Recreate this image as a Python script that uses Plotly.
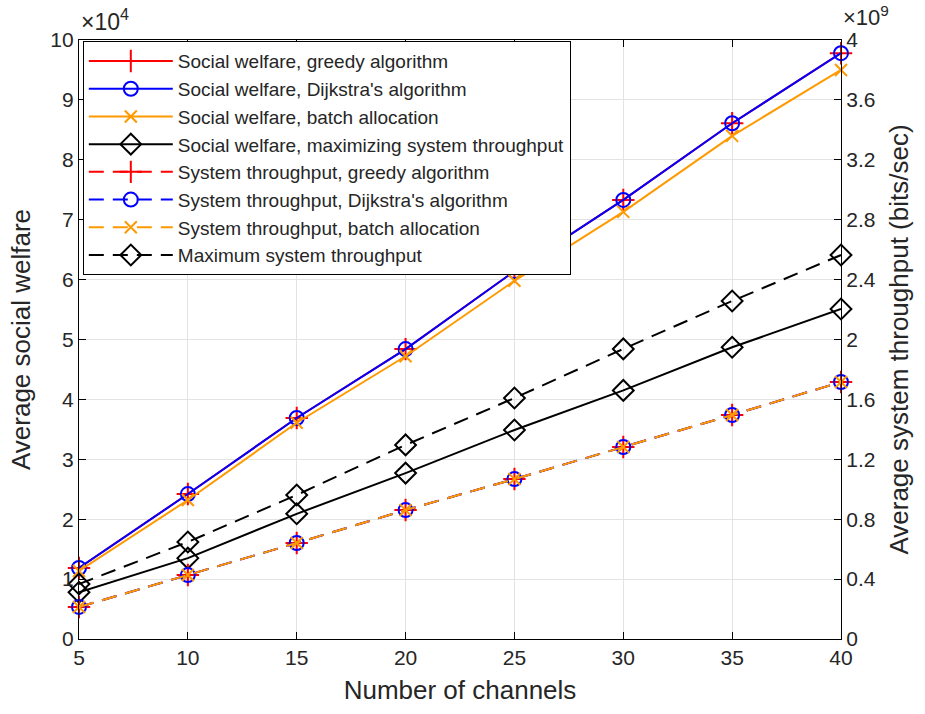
import plotly.graph_objects as go

channels = [5, 10, 15, 20, 25, 30, 35, 40]

# Social welfare (x 1e4)
sw_greedy = [1.185, 2.42, 3.69, 4.84, 6.14, 7.33, 8.61, 9.78]
sw_dijkstra = [1.185, 2.42, 3.69, 4.84, 6.14, 7.33, 8.61, 9.78]
sw_batch = [1.135, 2.32, 3.61, 4.72, 5.98, 7.13, 8.40, 9.50]
sw_maxthr = [0.78, 1.35, 2.09, 2.77, 3.49, 4.15, 4.87, 5.51]

# System throughput (x 1e9 bits/sec)
thr_greedy = [0.214, 0.427, 0.641, 0.861, 1.068, 1.282, 1.496, 1.716]
thr_dijkstra = [0.214, 0.427, 0.641, 0.861, 1.068, 1.282, 1.496, 1.716]
thr_batch = [0.214, 0.427, 0.641, 0.861, 1.068, 1.282, 1.496, 1.716]
thr_max = [0.367, 0.648, 0.962, 1.296, 1.609, 1.937, 2.257, 2.564]

RED = "#ff0000"
BLUE = "#0000ff"
ORANGE = "#ff9900"
BLACK = "#000000"
FONT = "Liberation Sans, Arial, sans-serif"
DASH = "15px,9px"
TXT = "#262626"

fig = go.Figure()

def add(y, name, color, symbol, size, dash, axis):
    fig.add_trace(go.Scatter(
        x=channels, y=y, name=name, mode="lines+markers", yaxis=axis,
        cliponaxis=False,
        line=dict(color=color, width=2, dash=dash),
        marker=dict(symbol=symbol, size=size, color=color,
                    line=dict(color=color, width=2)),
    ))

add(sw_greedy, "Social welfare, greedy algorithm", RED, "cross-thin-open", 16, "solid", "y")
add(sw_dijkstra, "Social welfare, Dijkstra's algorithm", BLUE, "circle-open", 14, "solid", "y")
add(sw_batch, "Social welfare, batch allocation", ORANGE, "x-thin-open", 12, "solid", "y")
add(sw_maxthr, "Social welfare, maximizing system throughput", BLACK, "diamond-open", 16, "solid", "y")
add(thr_greedy, "System throughput, greedy algorithm", RED, "cross-thin-open", 16, DASH, "y2")
add(thr_dijkstra, "System throughput, Dijkstra's algorithm", BLUE, "circle-open", 14, DASH, "y2")
add(thr_batch, "System throughput, batch allocation", ORANGE, "x-thin-open", 12, DASH, "y2")
add(thr_max, "Maximum system throughput", BLACK, "diamond-open", 16, DASH, "y2")

axis_common = dict(
    showline=True, linecolor="black", linewidth=1.2,
    ticks="inside", ticklen=7, tickcolor="black", tickwidth=1,
    showgrid=True, gridcolor="#e3e3e3", gridwidth=1,
    zeroline=False, tickfont=dict(family=FONT, size=21, color=TXT),
)

fig.update_layout(
    width=925, height=714,
    margin=dict(l=79, r=84, t=40, b=75),
    paper_bgcolor="white", plot_bgcolor="white",
    font=dict(family=FONT, color=TXT),
    showlegend=True,
    legend=dict(
        x=0.005, y=0.998, xanchor="left", yanchor="top",
        bgcolor="white", bordercolor="black", borderwidth=1,
        font=dict(family=FONT, size=19, color=TXT),
        itemwidth=84, tracegroupgap=0,
    ),
    xaxis=dict(
        range=[5, 40], dtick=5, tick0=5, mirror="ticks",
        title=dict(text="Number of channels", font=dict(family=FONT, size=26, color=TXT), standoff=12),
        **axis_common,
    ),
    yaxis=dict(
        range=[0, 10], dtick=1, tick0=0,
        title=dict(text="Average social welfare", font=dict(family=FONT, size=26, color=TXT), standoff=12),
        **axis_common,
    ),
    yaxis2=dict(
        range=[0, 4], dtick=0.4, tick0=0, overlaying="y", side="right",
        title=dict(text="Average system throughput (bits/sec)", font=dict(family=FONT, size=26, color=TXT), standoff=14),
        **{k: v for k, v in axis_common.items() if k != "showgrid"}, showgrid=False,
    ),
    annotations=[
        dict(text="×10<sup>4</sup>", xref="paper", yref="paper", x=0, y=1,
             xanchor="left", yanchor="bottom", yshift=3, showarrow=False,
             font=dict(family=FONT, size=23, color=TXT)),
        dict(text="×10<sup>9</sup>", xref="paper", yref="paper", x=1, y=1,
             xanchor="left", yanchor="bottom", yshift=8, showarrow=False,
             font=dict(family=FONT, size=22, color=TXT)),
    ],
)

fig.write_html("out.html")
